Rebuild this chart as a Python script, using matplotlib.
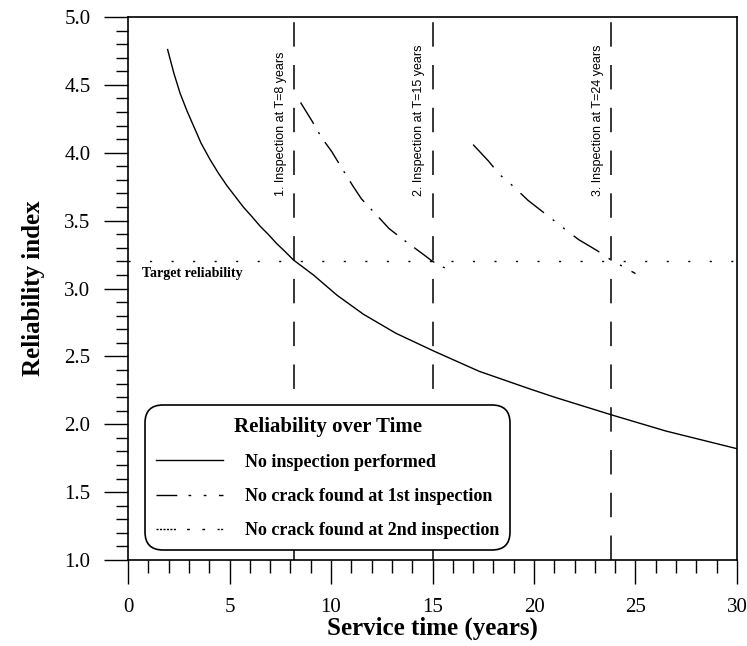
import matplotlib
matplotlib.use("Agg")
import matplotlib.pyplot as plt
from matplotlib.lines import Line2D
from matplotlib.ticker import MultipleLocator, FormatStrFormatter

# values
no_insp_t = [1.95, 2.25, 2.56, 2.9, 3.22, 3.6, 4.04, 4.45, 4.86, 5.27, 5.68, 6.1,
             6.5, 6.9, 7.33, 7.75, 8.15, 9.13, 10.3, 11.6, 13.2, 15.05, 17.3,
             19.8, 21.0, 23.8, 26.5, 30.0]
no_insp_b = [4.76, 4.59, 4.44, 4.31, 4.20, 4.07, 3.95, 3.85, 3.76, 3.68, 3.60, 3.53,
             3.46, 3.40, 3.33, 3.27, 3.21, 3.10, 2.95, 2.81, 2.67, 2.54, 2.39,
             2.26, 2.20, 2.07, 1.95, 1.82]

first_t = [8.5, 9.08, 9.54, 10.03, 10.6, 11.1, 11.5, 12.25, 12.87, 13.56, 14.47, 15.0, 16.0]
first_b = [4.37, 4.23, 4.11, 4.01, 3.87, 3.75, 3.66, 3.54, 3.44, 3.36, 3.26, 3.20, 3.12]

second_t = [17.0, 17.75, 18.3, 19.0, 19.7, 21.5, 22.2, 23.1, 23.8, 25.0]
second_b = [4.06, 3.94, 3.84, 3.75, 3.65, 3.44, 3.36, 3.28, 3.21, 3.11]

target = 3.2
insp_times = [8.2, 15.0, 23.8]
insp_labels = ["1. Inspection at T=8 years", "2. Inspection at T=15 years",
               "3. Inspection at T=24 years"]
legend_labels = ["No inspection performed", "No crack found at 1st inspection",
                 "No crack found at 2nd inspection"]

serif = "Liberation Serif"
narrow = ["Liberation Sans Narrow", "Liberation Sans"]

fig = plt.figure(figsize=(7.47, 6.46), dpi=100)
ax = fig.add_axes([0.1714, 0.1331, 0.8152, 0.8406])

ax.plot(no_insp_t, no_insp_b, color="black", lw=1.0)
ax.plot(first_t, first_b, color="black", lw=1.0, dashes=(18, 7, 1.5, 7))
ax.plot(second_t, second_b, color="black", lw=1.0, dashes=(22, 8, 1.5, 8, 1.5, 8))

ax.axhline(target, color="black", lw=1.0, dashes=(1.5, 14))
ax.text(0.7, target - 0.045, "Target reliability", fontfamily=serif, fontweight="bold",
        fontsize=10, va="top", ha="left")

for t, lab in zip(insp_times, insp_labels):
    ax.axvline(t, color="black", lw=1.1, dashes=(16, 12))
    ax.text(t - 0.35, 3.68, lab, rotation=90, ha="right", va="bottom",
            fontfamily=narrow, fontsize=9)

ax.set_xlim(0, 30)
ax.set_ylim(1.0, 5.0)
ax.xaxis.set_major_locator(MultipleLocator(5))
ax.xaxis.set_minor_locator(MultipleLocator(1))
ax.yaxis.set_major_locator(MultipleLocator(0.5))
ax.yaxis.set_minor_locator(MultipleLocator(0.1))
ax.yaxis.set_major_formatter(FormatStrFormatter("%.1f"))
ax.tick_params(which="major", direction="out", length=17, width=1.0, pad=10)
ax.tick_params(which="minor", direction="out", length=9, width=1.0)
for lab in ax.get_xticklabels() + ax.get_yticklabels():
    lab.set_fontfamily(serif)
    lab.set_fontsize(15)
for sp in ax.spines.values():
    sp.set_linewidth(1.2)

ax.set_xlabel("Service time (years)", fontfamily=serif, fontweight="bold", fontsize=18,
              labelpad=0)
ax.set_ylabel("Reliability index", fontfamily=serif, fontweight="bold", fontsize=18,
              labelpad=14)

handles = [
    Line2D([], [], color="black", lw=1.0),
    Line2D([], [], color="black", lw=1.0, dashes=(15, 8, 2, 9, 2, 9)),
    Line2D([], [], color="black", lw=1.0,
           dashes=(1.5, 1, 1.5, 1, 1.5, 1, 1.5, 1, 1.5, 1, 1.5, 8, 2, 9, 2, 9)),
]
leg = ax.legend(handles, legend_labels, title="Reliability over Time",
                loc="lower left", bbox_to_anchor=(0.028, 0.018), borderaxespad=0,
                prop={"family": serif, "weight": "bold", "size": 13},
                title_fontproperties={"family": serif, "weight": "bold", "size": 15},
                handlelength=3.7, handletextpad=1.2, labelspacing=0.95,
                borderpad=0.62, fancybox=True, framealpha=1, edgecolor="black")
leg.get_frame().set_boxstyle("round", pad=0, rounding_size=1.0)
leg.get_frame().set_linewidth(1.2)

fig.savefig("out.png", dpi=100)
